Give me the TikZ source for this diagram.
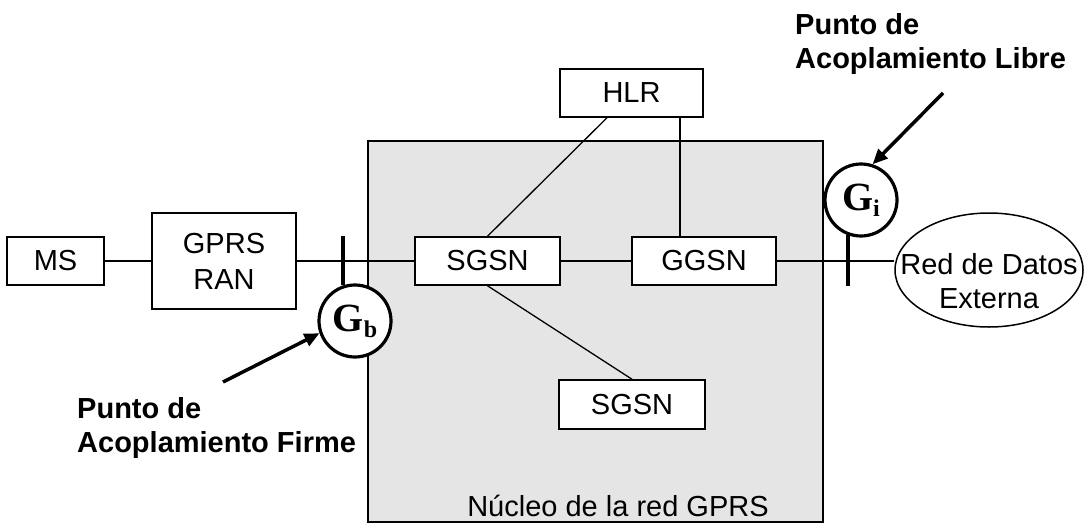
\documentclass[tikz,border=0pt]{standalone}
\usepackage{fontspec}
\setmainfont{Liberation Sans}
\newfontfamily\gfont{Liberation Serif}
\usetikzlibrary{arrows.meta,shapes.geometric}

\tikzset{
  box/.style={draw, line width=1.5pt, fill=white, inner sep=0pt, align=center,
              font=\fontsize{29}{36}\selectfont},
  wire/.style={line width=1.3pt},
  iface/.style={draw, circle, line width=3.2pt, fill=white, minimum size=72pt, inner sep=0pt},
  bar/.style={line width=3.5pt},
  pointer/.style={line width=3.5pt, -{Triangle[length=15pt,width=13pt]}},
  note/.style={inner sep=0pt, align=left, font=\fontsize{29}{34}\selectfont\bfseries},
  cloudtext/.style={inner sep=0pt, align=center, font=\fontsize{29}{34}\selectfont},
}

\begin{document}
\begin{tikzpicture}[x=1pt, y=-1pt]
  \useasboundingbox (0,0) rectangle (1086,525);

  % core network area
  \node[draw, line width=1.5pt, fill=black!10, minimum width=455pt, minimum height=381pt,
        inner sep=0pt] (core) at (595.5,331.5) {};
  \node[anchor=base, font=\fontsize{29}{36}\selectfont] (corelbl) at (618,516) {Núcleo de la red GPRS};

  % network elements
  \node[box, minimum width=97pt, minimum height=48pt] (ms) at (55.5,261) {MS};
  \node[box, minimum width=144pt, minimum height=96pt] (ran) at (224,261) {GPRS\\RAN};
  \node[box, minimum width=145pt, minimum height=48pt] (sgsn) at (487.5,261) {SGSN};
  \node[box, minimum width=144pt, minimum height=48pt] (ggsn) at (704,261) {GGSN};
  \node[box, minimum width=146pt, minimum height=49pt] (sgsnb) at (632,404.5) {SGSN};
  \node[box, minimum width=143pt, minimum height=48pt] (hlr) at (631.5,93) {HLR};
  \node[draw, line width=1.5pt, fill=white, ellipse, inner sep=0pt,
        minimum width=188pt, minimum height=114pt,
        label={[cloudtext, yshift=-11pt]center:Red de Datos\\Externa}] (pdn) at (989,270) {};

  % links
  \draw[wire] (ms) -- (ran);
  \draw[wire] (ran) -- (sgsn);
  \draw[wire] (sgsn) -- (ggsn);
  \draw[wire] (ggsn.east) -- (pdn.west |- ggsn.east);
  \draw[wire] ([xshift=-24.5pt]hlr.south) -- (sgsn.north);
  \draw[wire] ([xshift=48.5pt]hlr.south) -- ([xshift=48.5pt]hlr.south |- ggsn.north);
  \draw[wire] (sgsn.south) -- (sgsnb.north);

  % reference points
  \node[iface] (gb) at (355,321) {\gfont\bfseries\fontsize{40}{40}\selectfont G\raisebox{-6pt}{\fontsize{24}{24}\selectfont b}};
  \node[iface] (gi) at (861,200) {\gfont\bfseries\fontsize{40}{40}\selectfont G\raisebox{-6pt}{\fontsize{24}{24}\selectfont i}};
  \draw[bar] (gb.109) -- ++(0,-49);
  \draw[bar] (gi.250) -- ++(0,51);

  % annotations
  \node[note, anchor=west] (firm) at (77,428) {Punto de\\Acoplamiento Firme};
  \node[note, anchor=west] (free) at (795,44) {Punto de\\Acoplamiento Libre};
  \coordinate (fa) at (223,382);
  \coordinate (fb) at (943,93);
  \draw[pointer] (fa) -- (gb.199);
  \draw[pointer] (fb) -- (gi.72);
\end{tikzpicture}
\end{document}
